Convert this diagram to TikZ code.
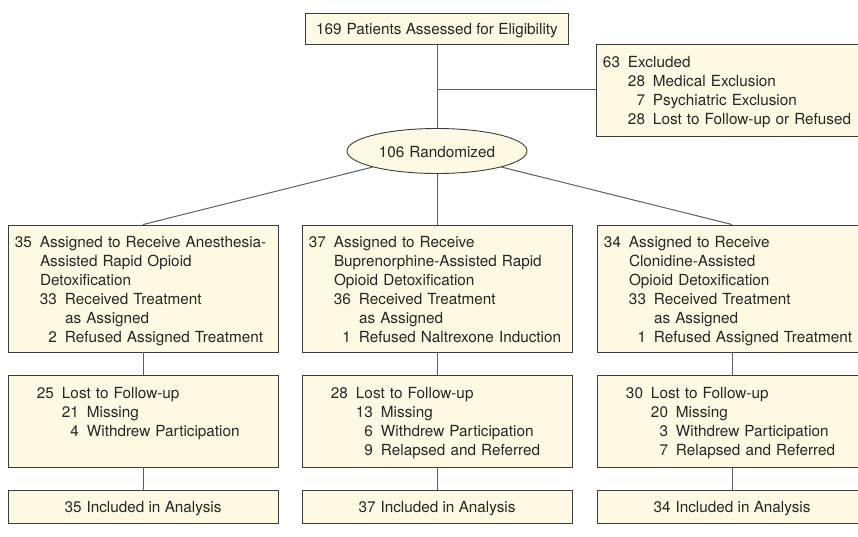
\documentclass[tikz,border=0pt]{standalone}
\usepackage{fontspec}
\setmainfont{TeX Gyre Heros}
\usetikzlibrary{shapes.geometric}

\definecolor{boxfill}{HTML}{FDF9E3}
\definecolor{boxline}{HTML}{3C3C3C}
\definecolor{connector}{HTML}{5E5E5E}

% number column and indent of the lists
\newcommand{\nb}[1]{\makebox[17pt][r]{#1}\hspace{8pt}}
\newcommand{\ind}{\hspace*{25pt}}

\tikzset{
  box/.style={draw=boxline, fill=boxfill, line width=0.9pt, rectangle, inner sep=0pt,
    font=\fontsize{15.3}{19}\selectfont, text=black!85,
    execute at begin node=\rule{0pt}{18pt}, execute at end node=\strut},
  armbox/.style={box, minimum width=270pt, minimum height=127pt, text width=256pt, align=left},
  lostbox/.style={box, minimum width=270pt, minimum height=92pt, text width=212pt, align=left},
  endbox/.style={box, minimum width=270pt, minimum height=33pt},
  link/.style={draw=connector, line width=1pt}
}

\begin{document}
\begin{tikzpicture}[x=1pt, y=-1pt]

\useasboundingbox (0,0) rectangle (858,537);
\clip (0,0) rectangle (858,537);

% Enrollment
\node[box, minimum width=263pt, minimum height=31pt] (assessed) at (437,28.5)
  {169\hspace{5pt}Patients Assessed for Eligibility};
\node[box, minimum width=270pt, minimum height=92pt, text width=256pt, align=left] (excluded) at (731,90)
  {\nb{63}Excluded\\
   \ind\nb{28}Medical Exclusion\\
   \ind\nb{7}Psychiatric Exclusion\\
   \ind\nb{28}Lost to Follow-up or Refused};
\node[box, ellipse, minimum width=180pt, minimum height=45pt] (randomized) at (437,151)
  {106\hspace{5pt}Randomized};

% Allocation
\node[armbox] (arm1) at (143,288.5)
  {\nb{35}Assigned to Receive Anesthesia-\\
   \ind Assisted Rapid Opioid\\
   \ind Detoxification\\
   \ind\nb{33}Received Treatment\\
   \ind\ind as Assigned\\
   \ind\nb{2}Refused Assigned Treatment};
\node[armbox] (arm2) at (437,288.5)
  {\nb{37}Assigned to Receive\\
   \ind Buprenorphine-Assisted Rapid\\
   \ind Opioid Detoxification\\
   \ind\nb{36}Received Treatment\\
   \ind\ind as Assigned\\
   \ind\nb{1}Refused Naltrexone Induction};
\node[armbox] (arm3) at (732,288.5)
  {\nb{34}Assigned to Receive\\
   \ind Clonidine-Assisted\\
   \ind Opioid Detoxification\\
   \ind\nb{33}Received Treatment\\
   \ind\ind as Assigned\\
   \ind\nb{1}Refused Assigned Treatment};

% Follow-up
\node[lostbox] (lost1) at (143,421)
  {\nb{25}Lost to Follow-up\\
   \ind\nb{21}Missing\\
   \ind\nb{4}Withdrew Participation\\
   \mbox{}};
\node[lostbox] (lost2) at (437,421)
  {\nb{28}Lost to Follow-up\\
   \ind\nb{13}Missing\\
   \ind\nb{6}Withdrew Participation\\
   \ind\nb{9}Relapsed and Referred};
\node[lostbox] (lost3) at (732,421)
  {\nb{30}Lost to Follow-up\\
   \ind\nb{20}Missing\\
   \ind\nb{3}Withdrew Participation\\
   \ind\nb{7}Relapsed and Referred};

% Analysis
\node[endbox] (incl1) at (143,506.5) {35\hspace{5pt}Included in Analysis};
\node[endbox] (incl2) at (437,506.5) {37\hspace{5pt}Included in Analysis};
\node[endbox] (incl3) at (732,506.5) {34\hspace{5pt}Included in Analysis};

% Connectors
\coordinate (split) at (437,90);
\draw[link] (assessed) -- (randomized);
\draw[link] (split) -- (excluded);
\draw[link] (randomized) -- (arm1.north);
\draw[link] (randomized) -- (arm2);
\draw[link] (randomized) -- (arm3.north);
\foreach \i in {1,2,3} {
  \draw[link] (arm\i) -- (lost\i);
  \draw[link] (lost\i) -- (incl\i);
}

\end{tikzpicture}
\end{document}
